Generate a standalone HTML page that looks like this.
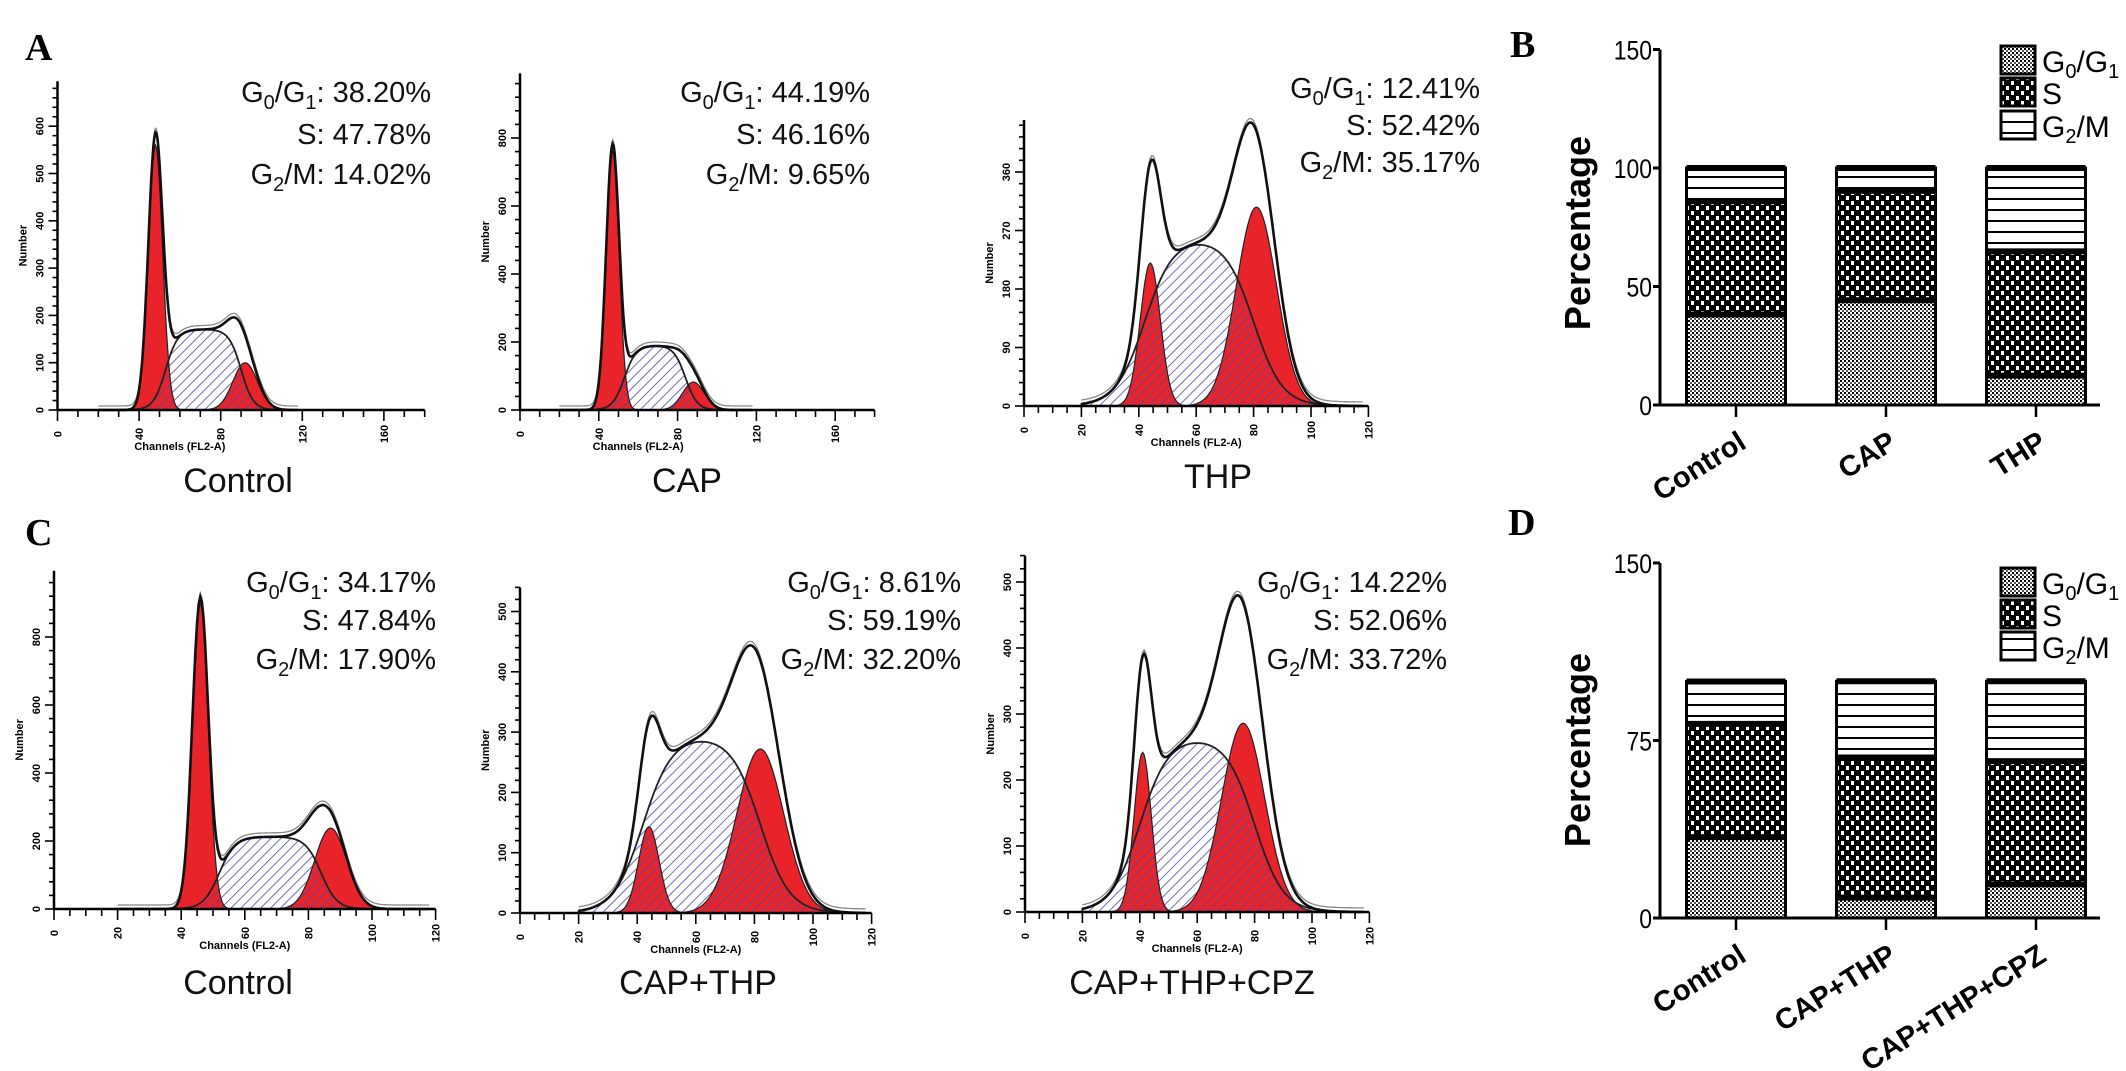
<!DOCTYPE html>
<html><head><meta charset="utf-8">
<style>
html,body{margin:0;padding:0;background:#fff;}
svg{display:block;font-family:"Liberation Sans",sans-serif;}
</style></head>
<body>
<svg id="fig" width="2126" height="1071" viewBox="0 0 2126 1071" xmlns="http://www.w3.org/2000/svg">
<defs>
<pattern id="hatch" width="7" height="7" patternUnits="userSpaceOnUse" patternTransform="rotate(45)">
<line x1="0" y1="0" x2="0" y2="7" stroke="#4a4aa8" stroke-width="1.6"/>
</pattern>
<pattern id="patG1" width="4" height="4" patternUnits="userSpaceOnUse">
<rect width="4" height="4" fill="#fff"/><rect width="2" height="2" fill="#000"/><rect x="2" y="2" width="2" height="2" fill="#555"/>
</pattern>
<pattern id="patS" width="10" height="10" patternUnits="userSpaceOnUse">
<rect width="10" height="10" fill="#000"/><rect x="1" y="1" width="3" height="4" fill="#fff"/><rect x="6" y="6" width="3" height="4" fill="#fff"/>
</pattern>
<pattern id="patG2" width="10" height="11" patternUnits="userSpaceOnUse">
<rect width="10" height="11" fill="#fff"/><rect y="0" width="10" height="2" fill="#000"/>
</pattern>
</defs>

<g font-family="Liberation Serif,serif" font-weight="bold" font-size="38">
<text x="25" y="60">A</text>
<text x="1510" y="57">B</text>
<text x="25" y="545">C</text>
<text x="1508" y="535">D</text>
</g>
<g id="hists"></g>
<g id="bars"></g>
</svg>
<script>
// ---- histogram data (flow cytometry model components) ----
const histNames = ["Control", "CAP", "THP", "Control", "CAP+THP", "CAP+THP+CPZ"];
const g1Pct = ["38.20%", "44.19%", "12.41%", "34.17%", "8.61%", "14.22%"];
const sPct = ["47.78%", "46.16%", "52.42%", "47.84%", "59.19%", "52.06%"];
const g2Pct = ["14.02%", "9.65%", "35.17%", "17.90%", "32.20%", "33.72%"];
const g1Centers = [48, 47, 44, 46, 44, 41];
const g1Heights = [560, 760, 220, 900, 143, 242];
const g1Widths = [3.5, 3.3, 3.5, 2.5, 3.5, 3];
const sStart = [53, 53, 42, 52, 42, 40];
const sEnd = [90, 84, 80, 84, 82, 80];
const sHeights = [170, 188, 248, 212, 284, 256];
const sEdge = [3, 3, 5, 2.5, 5, 5];
const g2Centers = [92, 88, 81, 87, 82, 76];
const g2Heights = [100, 82, 306, 238, 272, 286];
const g2Widths = [6, 5.5, 7, 5, 8, 7.5];
const xTickStep = [40, 40, 20, 20, 20, 20];
const yTickStep = [100, 200, 90, 200, 100, 100];
const xAxisMax = [180, 180, 120, 120, 120, 120];
const yAxisMax = [695, 990, 440, 995, 540, 540];

// ---- stacked bar data ----
const barCatsB = ["Control", "CAP", "THP"];
const barG1B = [38.20, 44.19, 12.41];
const barSB = [47.78, 46.16, 52.42];
const barG2B = [14.02, 9.65, 35.17];
const barCatsD = ["Control", "CAP+THP", "CAP+THP+CPZ"];
const barG1D = [34.17, 8.61, 14.22];
const barSD = [47.84, 59.19, 52.06];
const barG2D = [17.90, 32.20, 33.72];
const ticksB = [0, 50, 100, 150];
const ticksD = [0, 75, 150];

const NS = "http://www.w3.org/2000/svg";
function mk(tag, attrs, parent) {
  const e = document.createElementNS(NS, tag);
  for (const k in attrs) e.setAttribute(k, attrs[k]);
  parent.appendChild(e);
  return e;
}
const layout = [
  {ax: 57.5, y0: 410, xs: 2.04, ys: 0.473, tr: 431, tb: [102, 144, 184], lx: 238, ly: 492},
  {ax: 520, y0: 410, xs: 1.97, ys: 0.34, tr: 870, tb: [102, 144, 184], lx: 687, ly: 492},
  {ax: 1024, y0: 406, xs: 2.87, ys: 0.65, tr: 1480, tb: [98, 135, 172], lx: 1218, ly: 488},
  {ax: 54, y0: 909, xs: 3.18, ys: 0.34, tr: 436, tb: [592, 630, 669], lx: 238, ly: 994},
  {ax: 520, y0: 913, xs: 2.93, ys: 0.603, tr: 961, tb: [592, 630, 669], lx: 698, ly: 994},
  {ax: 1025, y0: 912, xs: 2.87, ys: 0.66, tr: 1447, tb: [592, 630, 669], lx: 1192, ly: 994}
];
function gauss(x, c, h, sd) { return h * Math.exp(-0.5 * Math.pow((x - c) / sd, 2)); }
function plat(x, a, b, w) { return 1 / (1 + Math.exp(-(x - a) / w)) / (1 + Math.exp(-(b - x) / w)); }

const hroot = document.getElementById("hists");
for (let i = 0; i < 6; i++) {
  const L = layout[i];
  const X = v => L.ax + v * L.xs;
  const Y = v => L.y0 - v * L.ys;
  const g = mk("g", {}, hroot);
  
  
  const xsArr = [];
  for (let x = 20; x <= 118; x += 0.5) xsArr.push(x);
  let smax = 0;
  for (const x of xsArr) smax = Math.max(smax, plat(x, sStart[i], sEnd[i], sEdge[i]));
  const S = x => sHeights[i] * plat(x, sStart[i], sEnd[i], sEdge[i]) / smax;
  const G1 = x => gauss(x, g1Centers[i], g1Heights[i], g1Widths[i]);
  const G2 = x => gauss(x, g2Centers[i], g2Heights[i], g2Widths[i]);
  const T = x => S(x) + G1(x) + G2(x);
  const area = f => "M" + X(xsArr[0]) + "," + L.y0 + xsArr.map(x => "L" + X(x).toFixed(1) + "," + Y(f(x)).toFixed(1)).join("") + "L" + X(xsArr[xsArr.length - 1]) + "," + L.y0 + "Z";
  const line = (f, dy) => xsArr.map((x, k) => (k ? "L" : "M") + X(x).toFixed(1) + "," + (Y(f(x)) + dy).toFixed(1)).join("");
  const sFill = mk("path", {d: area(S), fill: "#fff"}, g);
  
  
  const r1 = mk("path", {d: area(G1), fill: "#e8242a"}, g);
  
  
  const r2 = mk("path", {d: area(G2), fill: "#e8242a"}, g);
  
  
  const sh = mk("path", {d: area(S), fill: "url(#hatch)", stroke: "#222", "stroke-width": 1.8}, g);
  
  
  const o1 = mk("path", {d: line(G1, 0), fill: "none", stroke: "#222", "stroke-width": 1.2}, g);
  
  
  const o2 = mk("path", {d: line(G2, 0), fill: "none", stroke: "#222", "stroke-width": 1.2}, g);
  
  
  const raw = mk("path", {d: line(T, -4), fill: "none", stroke: "#888", "stroke-width": 1.3}, g);
  
  
  const tot = mk("path", {d: line(T, 0), fill: "none", stroke: "#111", "stroke-width": 2.6}, g);
  
  
  const xa = mk("line", {x1: L.ax, y1: L.y0, x2: X(xAxisMax[i]), y2: L.y0, stroke: "#000", "stroke-width": 2.5}, g);
  
  
  const ya = mk("line", {x1: L.ax, y1: L.y0, x2: L.ax, y2: Y(yAxisMax[i]), stroke: "#000", "stroke-width": 2.5}, g);
  
  
  const xm = xTickStep[i] / 4;
  for (let v = 0; v <= xAxisMax[i] + 0.01; v += xm) {
    const major = Math.abs(v / xTickStep[i] - Math.round(v / xTickStep[i])) < 1e-6;
    mk("line", {x1: X(v), y1: L.y0, x2: X(v), y2: L.y0 + (major ? 11 : 7), stroke: "#000", "stroke-width": 1.6}, g);
    if (major && v <= (i < 2 ? 160 : 120)) {
      const t = mk("text", {x: X(v), y: L.y0 + 28, "font-size": 11, "font-weight": "bold", "text-anchor": "middle", transform: "rotate(-90 " + X(v) + " " + (L.y0 + 24) + ")"}, g);
      t.textContent = v;
      
      
    }
  }
  const ym = yTickStep[i] / 5;
  for (let v = 0; v <= yAxisMax[i]; v += ym) {
    const major = Math.abs(v / yTickStep[i] - Math.round(v / yTickStep[i])) < 1e-6;
    mk("line", {x1: L.ax, y1: Y(v), x2: L.ax - (major ? 9 : 5), y2: Y(v), stroke: "#000", "stroke-width": 1.6}, g);
    if (major) {
      const t = mk("text", {x: L.ax - 18, y: Y(v) + 4, "font-size": 11, "font-weight": "bold", "text-anchor": "middle", transform: "rotate(-90 " + (L.ax - 18) + " " + Y(v) + ")"}, g);
      t.textContent = v;
      
      
    }
  }
  const xl = mk("text", {x: X(60), y: L.y0 + 40, "font-size": 11, "font-weight": "bold", "text-anchor": "middle"}, g);
  xl.textContent = "Channels (FL2-A)";
  
  
  const ycen = (L.y0 + Y(yAxisMax[i])) / 2;
  const yl = mk("text", {x: L.ax - 31, y: ycen, "font-size": 11, "font-weight": "bold", "text-anchor": "middle", transform: "rotate(-90 " + (L.ax - 31) + " " + ycen + ")"}, g);
  yl.textContent = "Number";
  
  
  const rows = [["G", "0", "/G", "1", ": " + g1Pct[i]], ["", "", "S", "", ": " + sPct[i]], ["G", "2", "/M", "", ": " + g2Pct[i]]];
  rows.forEach((r, k) => {
    const t = mk("text", {x: L.tr, y: L.tb[k], "font-size": 29, "text-anchor": "end", fill: "#111"}, g);
    
    
    let html = "";
    if (r[0]) html += r[0];
    if (r[1]) html += '<tspan font-size="20" dy="7">' + r[1] + '</tspan><tspan dy="-7">' + r[2] + '</tspan>';
    else html += r[2];
    if (r[3]) html += '<tspan font-size="20" dy="7">' + r[3] + '</tspan><tspan dy="-7">' + r[4] + '</tspan>';
    else html += r[4];
    t.innerHTML = html;
  });
  const nm = mk("text", {x: L.lx, y: L.ly, "font-size": 34, "text-anchor": "middle", fill: "#111"}, g);
  nm.textContent = histNames[i];
  
  
}

const broot = document.getElementById("bars");
function barChart(cats, g1, s, g2, ticks, y0, pxPer, legY, pctY, nameId) {
  const g = mk("g", {}, broot);
  
  
  const ax = 1660;
  const centers = [1736, 1886, 2036];
  const bw = 99;
  const Y = v => y0 - v * pxPer;
  for (let k = 0; k < cats.length; k++) {
    const x = centers[k] - bw / 2;
    const parts = [[0, g1[k], "url(#patG1)", "bar-g0g1"], [g1[k], g1[k] + s[k], "url(#patS)", "bar-s"], [g1[k] + s[k], g1[k] + s[k] + g2[k], "url(#patG2)", "bar-g2m"]];
    for (const p of parts) {
      const r = mk("rect", {x: x, y: Y(p[1]), width: bw, height: Y(p[0]) - Y(p[1]), fill: p[2], stroke: "#000", "stroke-width": 3}, g);
      
      
    }
    mk("line", {x1: x, x2: x + bw, y1: Y(g1[k]), y2: Y(g1[k]), stroke: "#000", "stroke-width": 6}, g);
    mk("line", {x1: x, x2: x + bw, y1: Y(g1[k] + s[k]), y2: Y(g1[k] + s[k]), stroke: "#000", "stroke-width": 6}, g);
    mk("line", {x1: x, x2: x + bw, y1: Y(g1[k] + s[k] + g2[k]), y2: Y(g1[k] + s[k] + g2[k]), stroke: "#000", "stroke-width": 6}, g);
    mk("line", {x1: centers[k], x2: centers[k], y1: y0, y2: y0 + 12, stroke: "#000", "stroke-width": 2.5}, g);
    const tx = centers[k] + 12, ty = y0 + 42;
    const t = mk("text", {x: tx, y: ty, "font-size": 29, "font-weight": "bold", "text-anchor": "end", transform: "rotate(-32 " + tx + " " + ty + ")"}, g);
    t.textContent = cats[k];
    
    
  }
  const xa = mk("line", {x1: ax, x2: 2100, y1: y0, y2: y0, stroke: "#000", "stroke-width": 3}, g);
  
  
  const ya = mk("line", {x1: ax, x2: ax, y1: y0 + 1, y2: Y(ticks[ticks.length - 1]), stroke: "#000", "stroke-width": 3}, g);
  
  
  for (const v of ticks) {
    mk("line", {x1: ax - 7, x2: ax, y1: Y(v), y2: Y(v), stroke: "#000", "stroke-width": 3}, g);
    const t = mk("text", {x: ax - 8, y: Y(v) + 10, "font-size": 27, "text-anchor": "end", transform: "scale(0.85 1)", "transform-origin": (ax - 8) + " " + Y(v)}, g);
    t.textContent = v;
    
    
  }
  const pt = mk("text", {x: 1590, y: pctY, "font-size": 36, "font-weight": "bold", "text-anchor": "middle", transform: "rotate(-90 1590 " + pctY + ")"}, g);
  pt.textContent = "Percentage";
  
  
  const lg = [["url(#patG1)", 'G<tspan font-size="20" dy="6">0</tspan><tspan dy="-6">/G</tspan><tspan font-size="20" dy="6">1</tspan>'], ["url(#patS)", "S"], ["url(#patG2)", 'G<tspan font-size="20" dy="6">2</tspan><tspan dy="-6">/M</tspan>']];
  lg.forEach((e, k) => {
    const yy = legY[k];
    const b = mk("rect", {x: 2001, y: yy - 26, width: 34, height: 28, fill: e[0], stroke: "#000", "stroke-width": 3}, g);
    
    
    const t = mk("text", {x: 2042, y: yy, "font-size": 30}, g);
    t.innerHTML = e[1];
    
    
  });
}
barChart(barCatsB, barG1B, barSB, barG2B, ticksB, 405, 2.37, [72, 104, 137], 233, "bar-chart-b");
barChart(barCatsD, barG1D, barSD, barG2D, ticksD, 918, 2.367, [594, 626, 658], 750, "bar-chart-d");
</script>
</body></html>
